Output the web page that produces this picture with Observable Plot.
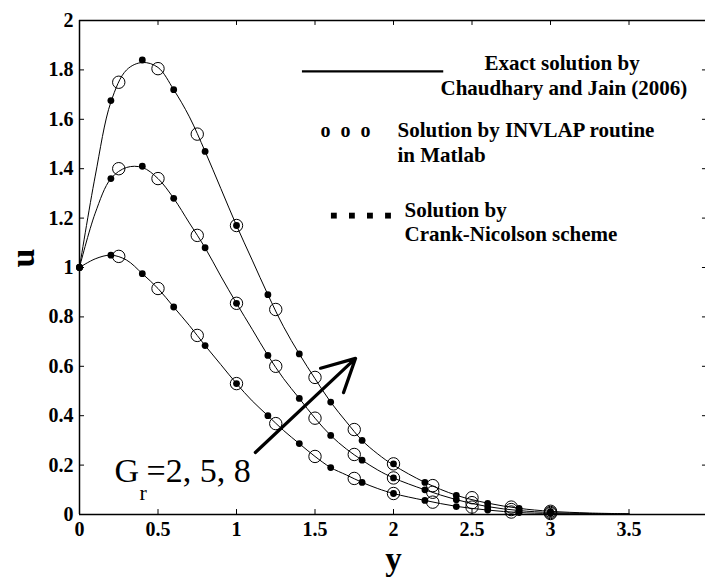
<!DOCTYPE html>
<html>
<head>
<meta charset="utf-8">
<script src="https://cdn.jsdelivr.net/npm/d3@7"></script>
<script src="https://cdn.jsdelivr.net/npm/@observablehq/plot@0.6"></script>
<style>
  html, body { margin: 0; padding: 0; background: #fff; overflow: hidden; }
  #chart svg { display: block; }
</style>
</head>
<body>
<div id="chart"></div>
<script>
// ---- Data ----
// Exact solution (Chaudhary and Jain 2006): y positions and u values for Gr = 2, 5, 8
const yExact = [0, 0.1, 0.2, 0.3, 0.4, 0.5, 0.6, 0.7, 0.8, 0.9, 1.0, 1.1, 1.2, 1.3, 1.4, 1.5, 1.6, 1.7, 1.8, 1.9, 2.0, 2.2, 2.4, 2.6, 2.8, 3.0, 3.25, 3.5];
const uExactGr2 = [1.00, 1.035, 1.05, 1.03, 0.975, 0.915, 0.84, 0.765, 0.684, 0.607, 0.53, 0.46, 0.40, 0.34, 0.287, 0.235, 0.19, 0.16, 0.13, 0.105, 0.085, 0.057, 0.033, 0.018, 0.008, 0.004, 0.002, 0.001];
const uExactGr5 = [1.00, 1.22, 1.36, 1.405, 1.405, 1.36, 1.28, 1.18, 1.08, 0.965, 0.855, 0.75, 0.644, 0.55, 0.47, 0.39, 0.32, 0.265, 0.22, 0.18, 0.148, 0.10, 0.06, 0.032, 0.016, 0.008, 0.004, 0.002];
const uExactGr8 = [1.00, 1.37, 1.67, 1.80, 1.83, 1.81, 1.72, 1.61, 1.47, 1.32, 1.17, 1.03, 0.89, 0.76, 0.65, 0.55, 0.455, 0.375, 0.30, 0.245, 0.20, 0.13, 0.078, 0.046, 0.025, 0.013, 0.006, 0.003];

// INVLAP routine in Matlab (open circles)
const yInvlap = [0.25, 0.5, 0.75, 1.0, 1.25, 1.5, 1.75, 2.0, 2.25, 2.5, 2.75, 3.0];
const uInvlapGr2 = [1.045, 0.915, 0.725, 0.53, 0.368, 0.235, 0.146, 0.085, 0.05, 0.03, 0.01, 0.004];
const uInvlapGr5 = [1.40, 1.36, 1.13, 0.855, 0.60, 0.39, 0.243, 0.148, 0.09, 0.048, 0.02, 0.008];
const uInvlapGr8 = [1.75, 1.805, 1.54, 1.17, 0.83, 0.555, 0.344, 0.205, 0.117, 0.068, 0.03, 0.013];

// Crank-Nicolson scheme (filled dots)
const yCN = [0, 0.2, 0.4, 0.6, 0.8, 1.0, 1.2, 1.4, 1.6, 1.8, 2.0, 2.2, 2.4, 2.6, 2.8, 3.0];
const uCNGr2 = [1.0, 1.05, 0.975, 0.84, 0.684, 0.53, 0.40, 0.287, 0.19, 0.13, 0.085, 0.057, 0.032, 0.018, 0.008, 0.004];
const uCNGr5 = [1.0, 1.36, 1.41, 1.28, 1.08, 0.855, 0.644, 0.47, 0.32, 0.22, 0.148, 0.10, 0.06, 0.03, 0.016, 0.008];
const uCNGr8 = [1.0, 1.676, 1.84, 1.72, 1.47, 1.17, 0.89, 0.65, 0.455, 0.30, 0.205, 0.13, 0.077, 0.045, 0.025, 0.013];

const grValues = [2, 5, 8];

// Ticks
const xTicks = [0, 0.5, 1, 1.5, 2, 2.5, 3, 3.5, 4];
const xTickLabels = [0, 0.5, 1, 1.5, 2, 2.5, 3, 3.5];
const yTicks = [0, 0.2, 0.4, 0.6, 0.8, 1, 1.2, 1.4, 1.6, 1.8, 2];

// Legend texts
const legendExact = ["Exact solution by", "Chaudhary and Jain (2006)"];
const legendInvlap = ["Solution by INVLAP routine", "in Matlab"];
const legendCN = ["Solution by", "Crank-Nicolson scheme"];

// ---- Build tables ----
const exactRows = [];
[uExactGr2, uExactGr5, uExactGr8].forEach((arr, k) =>
  arr.forEach((u, i) => exactRows.push({y: yExact[i], u, gr: grValues[k]})));
const invlapRows = [];
[uInvlapGr2, uInvlapGr5, uInvlapGr8].forEach((arr, k) =>
  arr.forEach((u, i) => invlapRows.push({y: yInvlap[i], u, gr: grValues[k]})));
const cnRows = [];
[uCNGr2, uCNGr5, uCNGr8].forEach((arr, k) =>
  arr.forEach((u, i) => cnRows.push({y: yCN[i], u, gr: grValues[k]})));

const serif = "'Liberation Serif', 'Times New Roman', serif";
const fmt = d => String(d);
const legendFont = {lineAnchor: "bottom", textAnchor: "start", frameAnchor: "top-left",
  fontSize: 21, fontWeight: "bold", fontFamily: serif, fill: "#000"};

const plot = Plot.plot({
  width: 705,
  height: 580,
  marginLeft: 79,
  marginRight: 0,
  marginTop: 20,
  marginBottom: 66,
  style: {fontFamily: serif, color: "#000", background: "#fff", overflow: "hidden"},
  x: {domain: [0, 4], range: [79, 707]},
  y: {domain: [0, 2], range: [514, 20]},
  marks: [
    // frame lines (bottom, top, left)
    Plot.ruleY([0, 2], {x1: 0, x2: 4, stroke: "#000", strokeWidth: 1.5}),
    Plot.ruleX([0], {y1: 0, y2: 2, stroke: "#000", strokeWidth: 1.5}),
    // inward ticks
    Plot.ruleX(xTicks, {x: d => d, y1: 0, y2: 0.02, stroke: "#000", strokeWidth: 1}),
    Plot.ruleX(xTicks, {x: d => d, y1: 2, y2: 1.98, stroke: "#000", strokeWidth: 1}),
    Plot.ruleY(yTicks, {y: d => d, x1: 0, x2: 0.032, stroke: "#000", strokeWidth: 1}),
    Plot.ruleY(yTicks, {y: d => d, x1: 4, x2: 3.968, stroke: "#000", strokeWidth: 1}),
    // tick labels
    Plot.axisX(xTickLabels, {tickSize: 0, tickPadding: 7, tickFormat: fmt, label: null,
      fontSize: 20, fontWeight: "bold", fontFamily: serif}),
    Plot.axisY(yTicks, {tickSize: 0, tickPadding: 6, tickFormat: fmt, label: null,
      fontSize: 20, fontWeight: "bold", fontFamily: serif}),
    // axis titles
    Plot.text(["u"], {frameAnchor: "left", dx: -56, dy: 0, rotate: -90, fontSize: 34,
      fontWeight: "bold", fontFamily: serif, fill: "#000"}),
    Plot.text(["y"], {frameAnchor: "bottom", dx: 1, dy: 55, fontSize: 33,
      fontWeight: "bold", fontFamily: serif, fill: "#000"}),
    // exact solution curves
    Plot.line(exactRows, {x: "y", y: "u", z: "gr", curve: "catmull-rom", stroke: "#000", strokeWidth: 1}),
    // INVLAP circles
    Plot.dot(invlapRows, {x: "y", y: "u", r: 6.2, stroke: "#000", strokeWidth: 1, fill: "none"}),
    // Crank-Nicolson dots
    Plot.dot(cnRows, {x: "y", y: "u", r: 3.4, fill: "#000", stroke: "none"}),
    // Gr arrow
    Plot.arrow([{x1: 1.12, y1: 0.251, x2: 1.758, y2: 0.632}], {x1: "x1", y1: "y1", x2: "x2", y2: "y2",
      stroke: "#000", strokeWidth: 3.2, headLength: 17, headAngle: 55}),
    // Gr label: G, subscript r, =2, 5, 8
    Plot.text(["G"], {frameAnchor: "top-left", dx: 35, dy: 461, lineAnchor: "bottom", textAnchor: "start",
      fontSize: 34, fontFamily: serif, fill: "#000"}),
    Plot.text(["r"], {frameAnchor: "top-left", dx: 60, dy: 479, lineAnchor: "bottom", textAnchor: "start",
      fontSize: 22, fontFamily: serif, fill: "#000"}),
    Plot.text([`=${grValues.join(", ")}`], {frameAnchor: "top-left", dx: 67, dy: 461, lineAnchor: "bottom", textAnchor: "start",
      fontSize: 34, fontFamily: serif, fill: "#000"}),
    // legend: exact line
    Plot.ruleY([1.794], {x1: 1.42, x2: 2.32, stroke: "#000", strokeWidth: 2.2}),
    Plot.text([legendExact[0]], {...legendFont, dx: 405, dy: 49}),
    Plot.text([legendExact[1]], {...legendFont, dx: 361, dy: 74}),
    // legend: INVLAP
    Plot.text(["o\u00a0\u00a0o\u00a0\u00a0o"], {...legendFont, fontSize: 20, dx: 241, dy: 116}),
    Plot.text([legendInvlap[0]], {...legendFont, dx: 318, dy: 116}),
    Plot.text([legendInvlap[1]], {...legendFont, dx: 318, dy: 141}),
    // legend: Crank-Nicolson squares
    Plot.dot([1.62, 1.735, 1.85, 1.965], {x: d => d, y: 1.21, symbol: "square", r: 3.3, fill: "#000", stroke: "none"}),
    Plot.text([legendCN[0]], {...legendFont, dx: 325, dy: 196}),
    Plot.text([legendCN[1]], {...legendFont, dx: 325, dy: 220})
  ]
});
document.getElementById("chart").appendChild(plot);
</script>
</body>
</html>
